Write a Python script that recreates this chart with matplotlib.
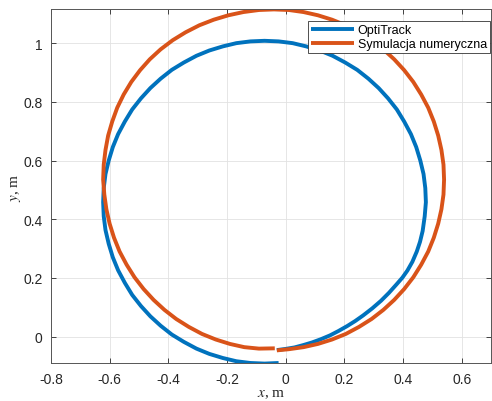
import matplotlib
matplotlib.use('Agg')
import matplotlib.pyplot as plt

# trajectories (x, y in metres), counter-clockwise from the start point
optitrack_x = [-0.03, 0.0, 0.03, 0.06, 0.09, 0.12, 0.151, 0.18, 0.21, 0.237, 0.264, 0.295,
               0.325, 0.352, 0.378, 0.398, 0.415, 0.432, 0.447, 0.458, 0.467, 0.474,
               0.478, 0.476, 0.470, 0.459, 0.445, 0.427, 0.404, 0.379, 0.349, 0.317,
               0.282, 0.244, 0.203, 0.160, 0.116, 0.070, 0.024, -0.024, -0.072, -0.120,
               -0.168, -0.214, -0.260, -0.304, -0.347, -0.388, -0.426, -0.461, -0.493,
               -0.523, -0.548, -0.571, -0.589, -0.603, -0.614, -0.620, -0.622, -0.620,
               -0.614, -0.603, -0.589, -0.571, -0.548, -0.523, -0.493, -0.461, -0.426,
               -0.388, -0.347, -0.304, -0.260, -0.214, -0.168, -0.120, -0.072, -0.024]
optitrack_y = [-0.046, -0.042, -0.037, -0.029, -0.020, -0.009, 0.004, 0.019, 0.036, 0.053,
               0.072, 0.096, 0.122, 0.149, 0.178, 0.201, 0.225, 0.255, 0.290, 0.323, 0.360,
               0.410, 0.458, 0.506, 0.554, 0.600, 0.646, 0.690, 0.733, 0.774, 0.812, 0.847,
               0.879, 0.909, 0.934, 0.957, 0.975, 0.989, 1.000, 1.006, 1.008, 1.006,
               1.000, 0.989, 0.975, 0.957, 0.934, 0.909, 0.879, 0.847, 0.812,
               0.774, 0.733, 0.690, 0.646, 0.600, 0.554, 0.506, 0.458, 0.410,
               0.363, 0.316, 0.270, 0.226, 0.183, 0.142, 0.104, 0.069, 0.037,
               0.007, -0.018, -0.041, -0.059, -0.073, -0.084, -0.090, -0.092, -0.090]

sim_x = [-0.03, 0.011, 0.061, 0.110, 0.158, 0.205, 0.250, 0.293, 0.333, 0.370, 0.404,
         0.435, 0.462, 0.486, 0.505, 0.520, 0.531, 0.538, 0.540, 0.538, 0.531, 0.520,
         0.505, 0.486, 0.462, 0.435, 0.404, 0.370, 0.333, 0.293, 0.250, 0.205, 0.158,
         0.110, 0.061, 0.011, -0.040, -0.091, -0.144, -0.195, -0.245, -0.294, -0.341,
         -0.385, -0.426, -0.463, -0.496, -0.526, -0.552, -0.574, -0.591, -0.605, -0.614,
         -0.620, -0.622, -0.618, -0.611, -0.600, -0.585, -0.566, -0.542, -0.515, -0.484,
         -0.450, -0.413, -0.373, -0.330, -0.285, -0.238, -0.190, -0.141, -0.091, -0.037]
sim_y = [-0.047, -0.043, -0.036, -0.025, -0.010, 0.009, 0.033, 0.060, 0.091, 0.125, 0.162,
         0.202, 0.245, 0.290, 0.337, 0.385, 0.434, 0.484, 0.535, 0.586, 0.636, 0.685,
         0.733, 0.780, 0.825, 0.868, 0.908, 0.945, 0.979, 1.010, 1.037, 1.061, 1.080,
         1.095, 1.106, 1.113, 1.115, 1.113, 1.106, 1.095, 1.080, 1.061, 1.037,
         1.010, 0.979, 0.945, 0.908, 0.868, 0.825, 0.780, 0.733, 0.685, 0.636,
         0.586, 0.535, 0.484, 0.434, 0.385, 0.337, 0.290, 0.245, 0.202, 0.162,
         0.125, 0.091, 0.060, 0.033, 0.009, -0.010, -0.025, -0.036, -0.041, -0.040]

x_ticks = [-0.8, -0.6, -0.4, -0.2, 0, 0.2, 0.4, 0.6]
x_labels = ['-0.8', '-0.6', '-0.4', '-0.2', '0', '0.2', '0.4', '0.6']
y_ticks = [0, 0.2, 0.4, 0.6, 0.8, 1.0]
y_labels = ['0', '0.2', '0.4', '0.6', '0.8', '1']

plt.rcParams['font.family'] = ['Liberation Sans', 'DejaVu Sans']
plt.rcParams['mathtext.fontset'] = 'stix'

fig = plt.figure(figsize=(4.92, 4.02), dpi=100)
ax = fig.add_axes([0.1035, 0.0938, 0.8945, 0.8803])

ax.plot(optitrack_x, optitrack_y, color='#0072BD', linewidth=2.8, label='OptiTrack',
        solid_capstyle='butt', solid_joinstyle='round')
ax.plot(sim_x, sim_y, color='#D95319', linewidth=2.8, label='Symulacja numeryczna',
        solid_capstyle='butt', solid_joinstyle='round')

ax.set_xlim(-0.8, 0.7)
ax.set_ylim(-0.091, 1.115)
ax.set_xticks(x_ticks)
ax.set_xticklabels(x_labels)
ax.set_yticks(y_ticks)
ax.set_yticklabels(y_labels)

ax.grid(True, color='#e2e2e2', linewidth=0.6)
ax.set_axisbelow(True)
ax.tick_params(direction='in', length=3.5, width=0.6, top=True, right=True,
               labelsize=10, colors='#262626', pad=6)
for s in ax.spines.values():
    s.set_color('#555555')
    s.set_linewidth(0.7)

ax.set_xlabel(r'$x$, m', family='Liberation Serif', fontsize=11, color='#262626', labelpad=1)
ax.set_ylabel(r'$y$, m', family='Liberation Serif', fontsize=11, color='#262626', labelpad=0)

leg = ax.legend(loc='upper right', bbox_to_anchor=(0.9977, 0.967), borderaxespad=0,
                fontsize=9, handlelength=3.4, handletextpad=0.3, borderpad=0.25,
                labelspacing=0.15, fancybox=False, framealpha=1, edgecolor='#333333')
leg.get_frame().set_linewidth(0.6)

fig.savefig('out.png', dpi=100)
